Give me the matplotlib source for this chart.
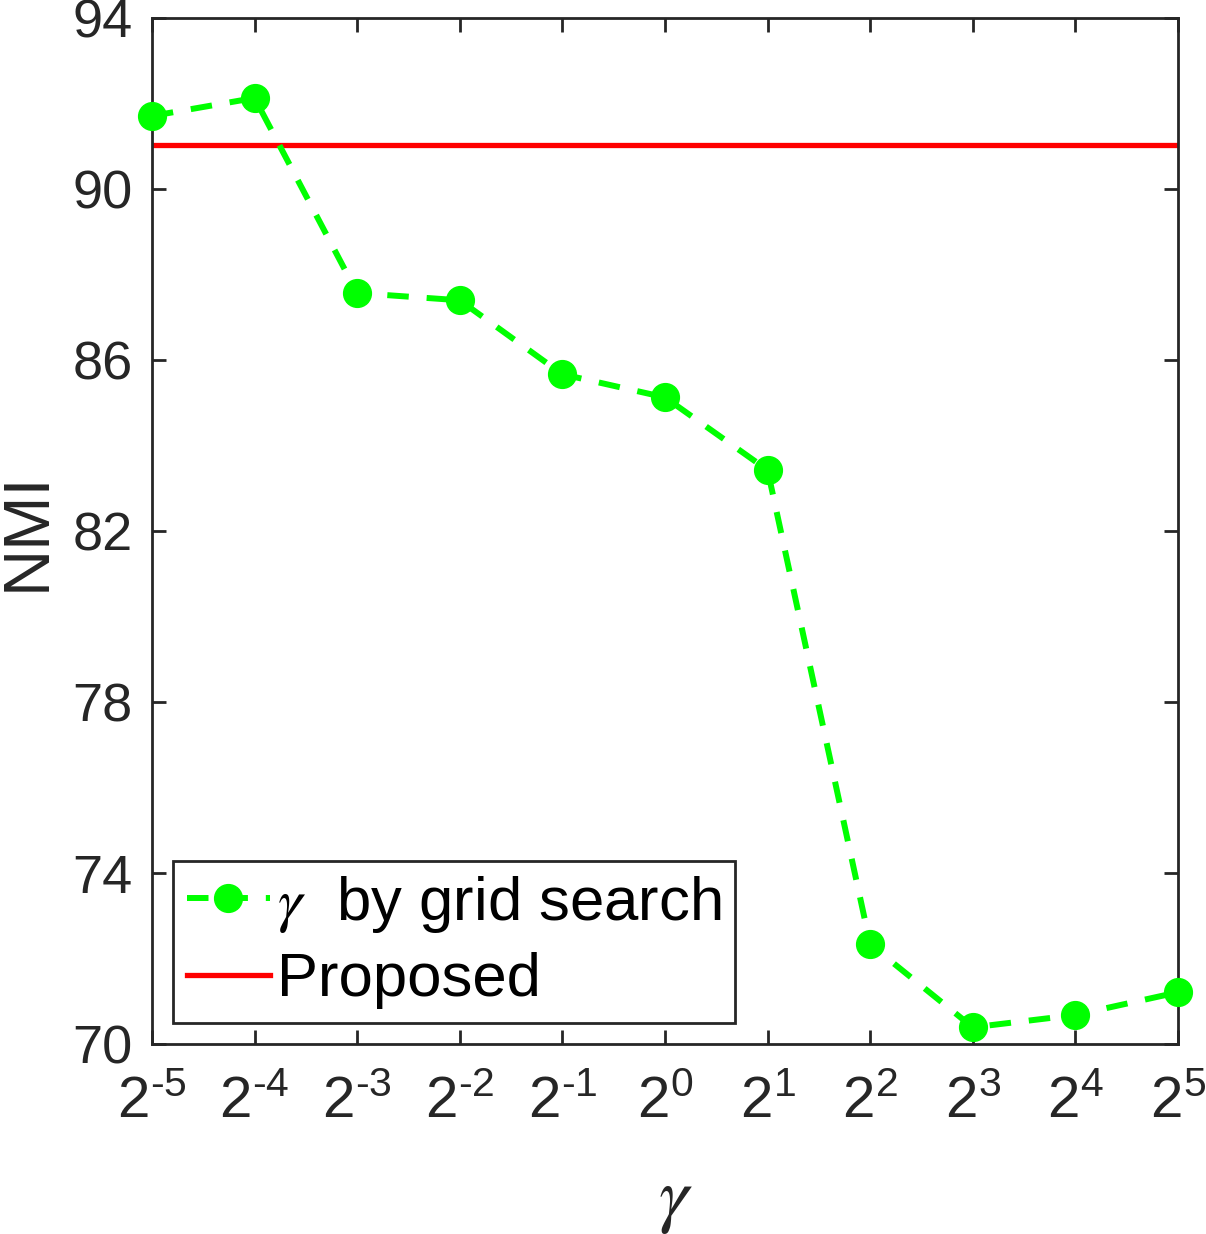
import matplotlib
matplotlib.use("Agg")
import matplotlib.pyplot as plt

plt.rcParams['font.family'] = ['Liberation Sans', 'DejaVu Sans']
plt.rcParams['mathtext.fontset'] = 'custom'
plt.rcParams['mathtext.rm'] = 'Liberation Sans'
plt.rcParams['mathtext.it'] = 'STIXGeneral:italic'

exponents = [-5, -4, -3, -2, -1, 0, 1, 2, 3, 4, 5]
nmi_grid = [91.71, 92.13, 87.57, 87.40, 85.67, 85.13, 83.43, 72.34, 70.40, 70.69, 71.22]
nmi_proposed = 91.04
xtick_labels = [r'$2^{\text{-}5}$', r'$2^{\text{-}4}$', r'$2^{\text{-}3}$', r'$2^{\text{-}2}$',
                r'$2^{\text{-}1}$', r'$2^{0}$', r'$2^{1}$', r'$2^{2}$', r'$2^{3}$', r'$2^{4}$', r'$2^{5}$']
yticks = [70, 74, 78, 82, 86, 90, 94]

axc = (0.15, 0.15, 0.15)
fig = plt.figure(figsize=(12.06, 12.34), dpi=100)
ax = fig.add_axes([0.126, 0.1536, 0.8508, 0.8318])

green = (0.0, 1.0, 0.0)
ax.plot(exponents, nmi_grid, color=green, linestyle='--', dashes=(3.6, 3.0), linewidth=4.3,
        marker='o', markersize=20, markerfacecolor=green, markeredgecolor=green,
        clip_on=False, zorder=3, label=r'$\gamma$  by grid search')
ax.axhline(nmi_proposed, color='red', linewidth=3.8, zorder=2, label='Proposed')

ax.set_xlim(-5, 5)
ax.set_ylim(70, 94)
ax.set_xticks(exponents)
ax.set_xticklabels(xtick_labels, fontsize=42)
ax.set_yticks(yticks)
ax.set_yticklabels([str(v) for v in yticks], fontsize=39)

ax.tick_params(axis='both', direction='in', length=10, width=2, colors=axc,
               top=True, right=True)
ax.tick_params(axis='y', pad=14)
ax.tick_params(axis='x', pad=23)
for s in ax.spines.values():
    s.set_linewidth(2)
    s.set_color(axc)

ax.set_ylabel('NMI', fontsize=47, color=axc)
ax.yaxis.set_label_coords(-0.092, 0.5)
ax.set_xlabel(r'$\gamma$', fontsize=54, color=axc)
ax.xaxis.set_label_coords(0.51, -0.119)

leg = ax.legend(loc='lower left', bbox_to_anchor=(0.0205, 0.021), fontsize=44.4,
                frameon=True, fancybox=False, framealpha=1, edgecolor=axc,
                handlelength=1.36, handletextpad=0.1, borderpad=0.22,
                labelspacing=0.28, borderaxespad=0)
leg.get_frame().set_linewidth(2)

fig.savefig('out.png', dpi=100, facecolor='white')
